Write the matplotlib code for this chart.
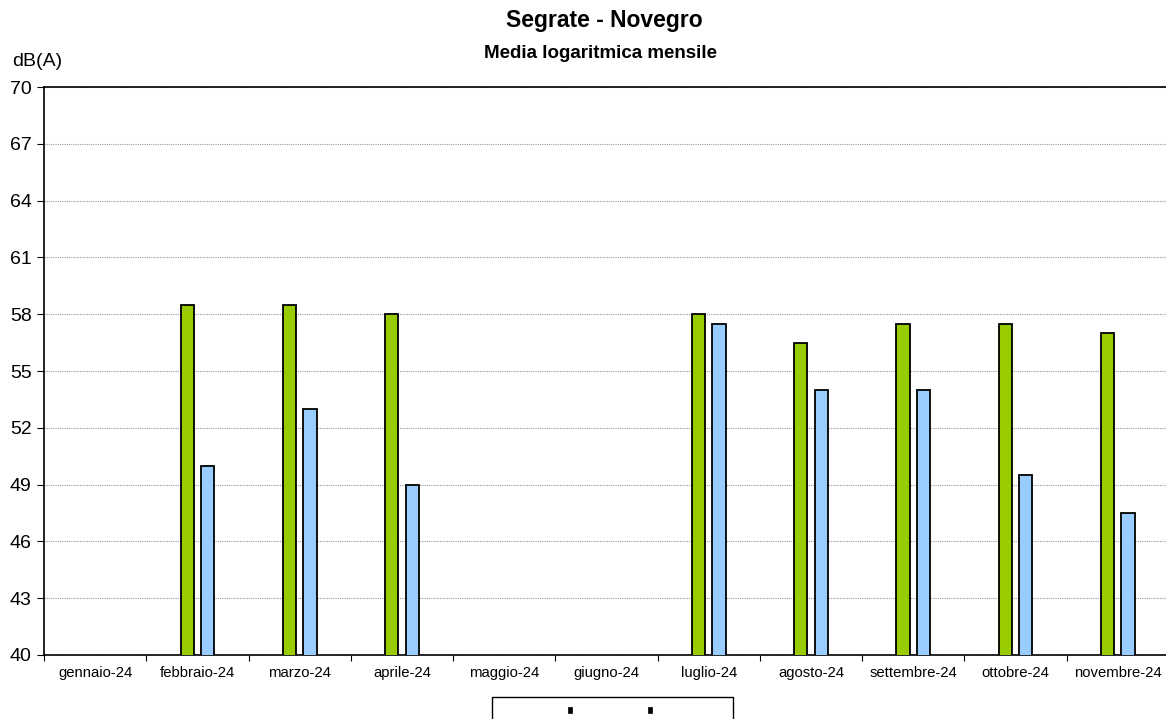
import matplotlib
matplotlib.use("Agg")
import matplotlib.pyplot as plt
import numpy as np
from matplotlib.patches import Rectangle

plt.rcParams['font.family'] = ['Liberation Sans', 'DejaVu Sans']

categories = ["gennaio-24", "febbraio-24", "marzo-24", "aprile-24", "maggio-24",
              "giugno-24", "luglio-24", "agosto-24", "settembre-24", "ottobre-24",
              "novembre-24"]
series_green = [np.nan, 58.5, 58.5, 58.0, np.nan, np.nan, 58.0, 56.5, 57.5, 57.5, 57.0]
series_blue = [np.nan, 50.0, 53.0, 49.0, np.nan, np.nan, 57.5, 54.0, 54.0, 49.5, 47.5]
yticks = [40, 43, 46, 49, 52, 55, 58, 61, 64, 67, 70]

W, H = 1166, 719
fig = plt.figure(figsize=(W / 100, H / 100), dpi=100)
left, right, top, bottom = 44, 1169, 87, 655
ax = fig.add_axes([left / W, 1 - bottom / H, (right - left) / W, (bottom - top) / H])

x = np.arange(len(categories))
bw = 0.13
ax.bar(x - 0.1, series_green, width=bw, color="#99CC00", edgecolor="black",
       linewidth=1.3, zorder=3)
ax.bar(x + 0.1, series_blue, width=bw, color="#99CCFF", edgecolor="black",
       linewidth=1.3, zorder=3)

ax.set_xlim(-0.5, len(categories) - 0.5)
ax.set_ylim(40, 70)
ax.set_yticks(yticks)
ax.set_yticklabels([str(v) for v in yticks], fontsize=14)
ax.set_xticks(x)
ax.set_xticklabels(categories, fontsize=10.7)
ax.set_xticks(np.arange(len(categories) + 1) - 0.5, minor=True)
ax.tick_params(axis='x', which='major', length=0, pad=8)
ax.tick_params(axis='x', which='minor', length=4, direction='out', width=0.8)
ax.tick_params(axis='y', length=5, direction='out', width=0.8, pad=4)
ax.yaxis.grid(True, color="#999999", linestyle=(0, (1, 1)), linewidth=0.8, zorder=0)
for s in ['left', 'bottom', 'top']:
    ax.spines[s].set_linewidth(1.2)
    ax.spines[s].set_color('black')
ax.spines['right'].set_visible(False)

fig.text(604 / W, 1 - 21 / H, "Segrate - Novegro", ha='center', va='center',
         fontsize=16.5, fontweight='bold')
fig.text(601 / W, 1 - 53 / H, "Media logaritmica mensile", ha='center', va='center',
         fontsize=13.5, fontweight='bold')
fig.text(12 / W, 1 - 61 / H, "dB(A)", ha='left', va='center', fontsize=14)

# legend frame (extends beyond the bottom edge) and tiny handles
fig.patches.append(Rectangle((492 / W, 1 - 740 / H), 241 / W, 43 / H,
                             transform=fig.transFigure, facecolor='white',
                             edgecolor='black', linewidth=1.0))
handles = [Rectangle((0, 0), 1, 1, facecolor="black", edgecolor="black", linewidth=0.5),
           Rectangle((0, 0), 1, 1, facecolor="black", edgecolor="black", linewidth=0.5)]
fig.legend(handles, [" ", " "], loc='center', ncol=2,
           bbox_to_anchor=(614 / W, 1 - 711 / H),
           handlelength=0.3, handleheight=0.25, handletextpad=0.3,
           columnspacing=4.9, fontsize=10, borderpad=0, frameon=False)

fig.savefig("out.png", dpi=100)
